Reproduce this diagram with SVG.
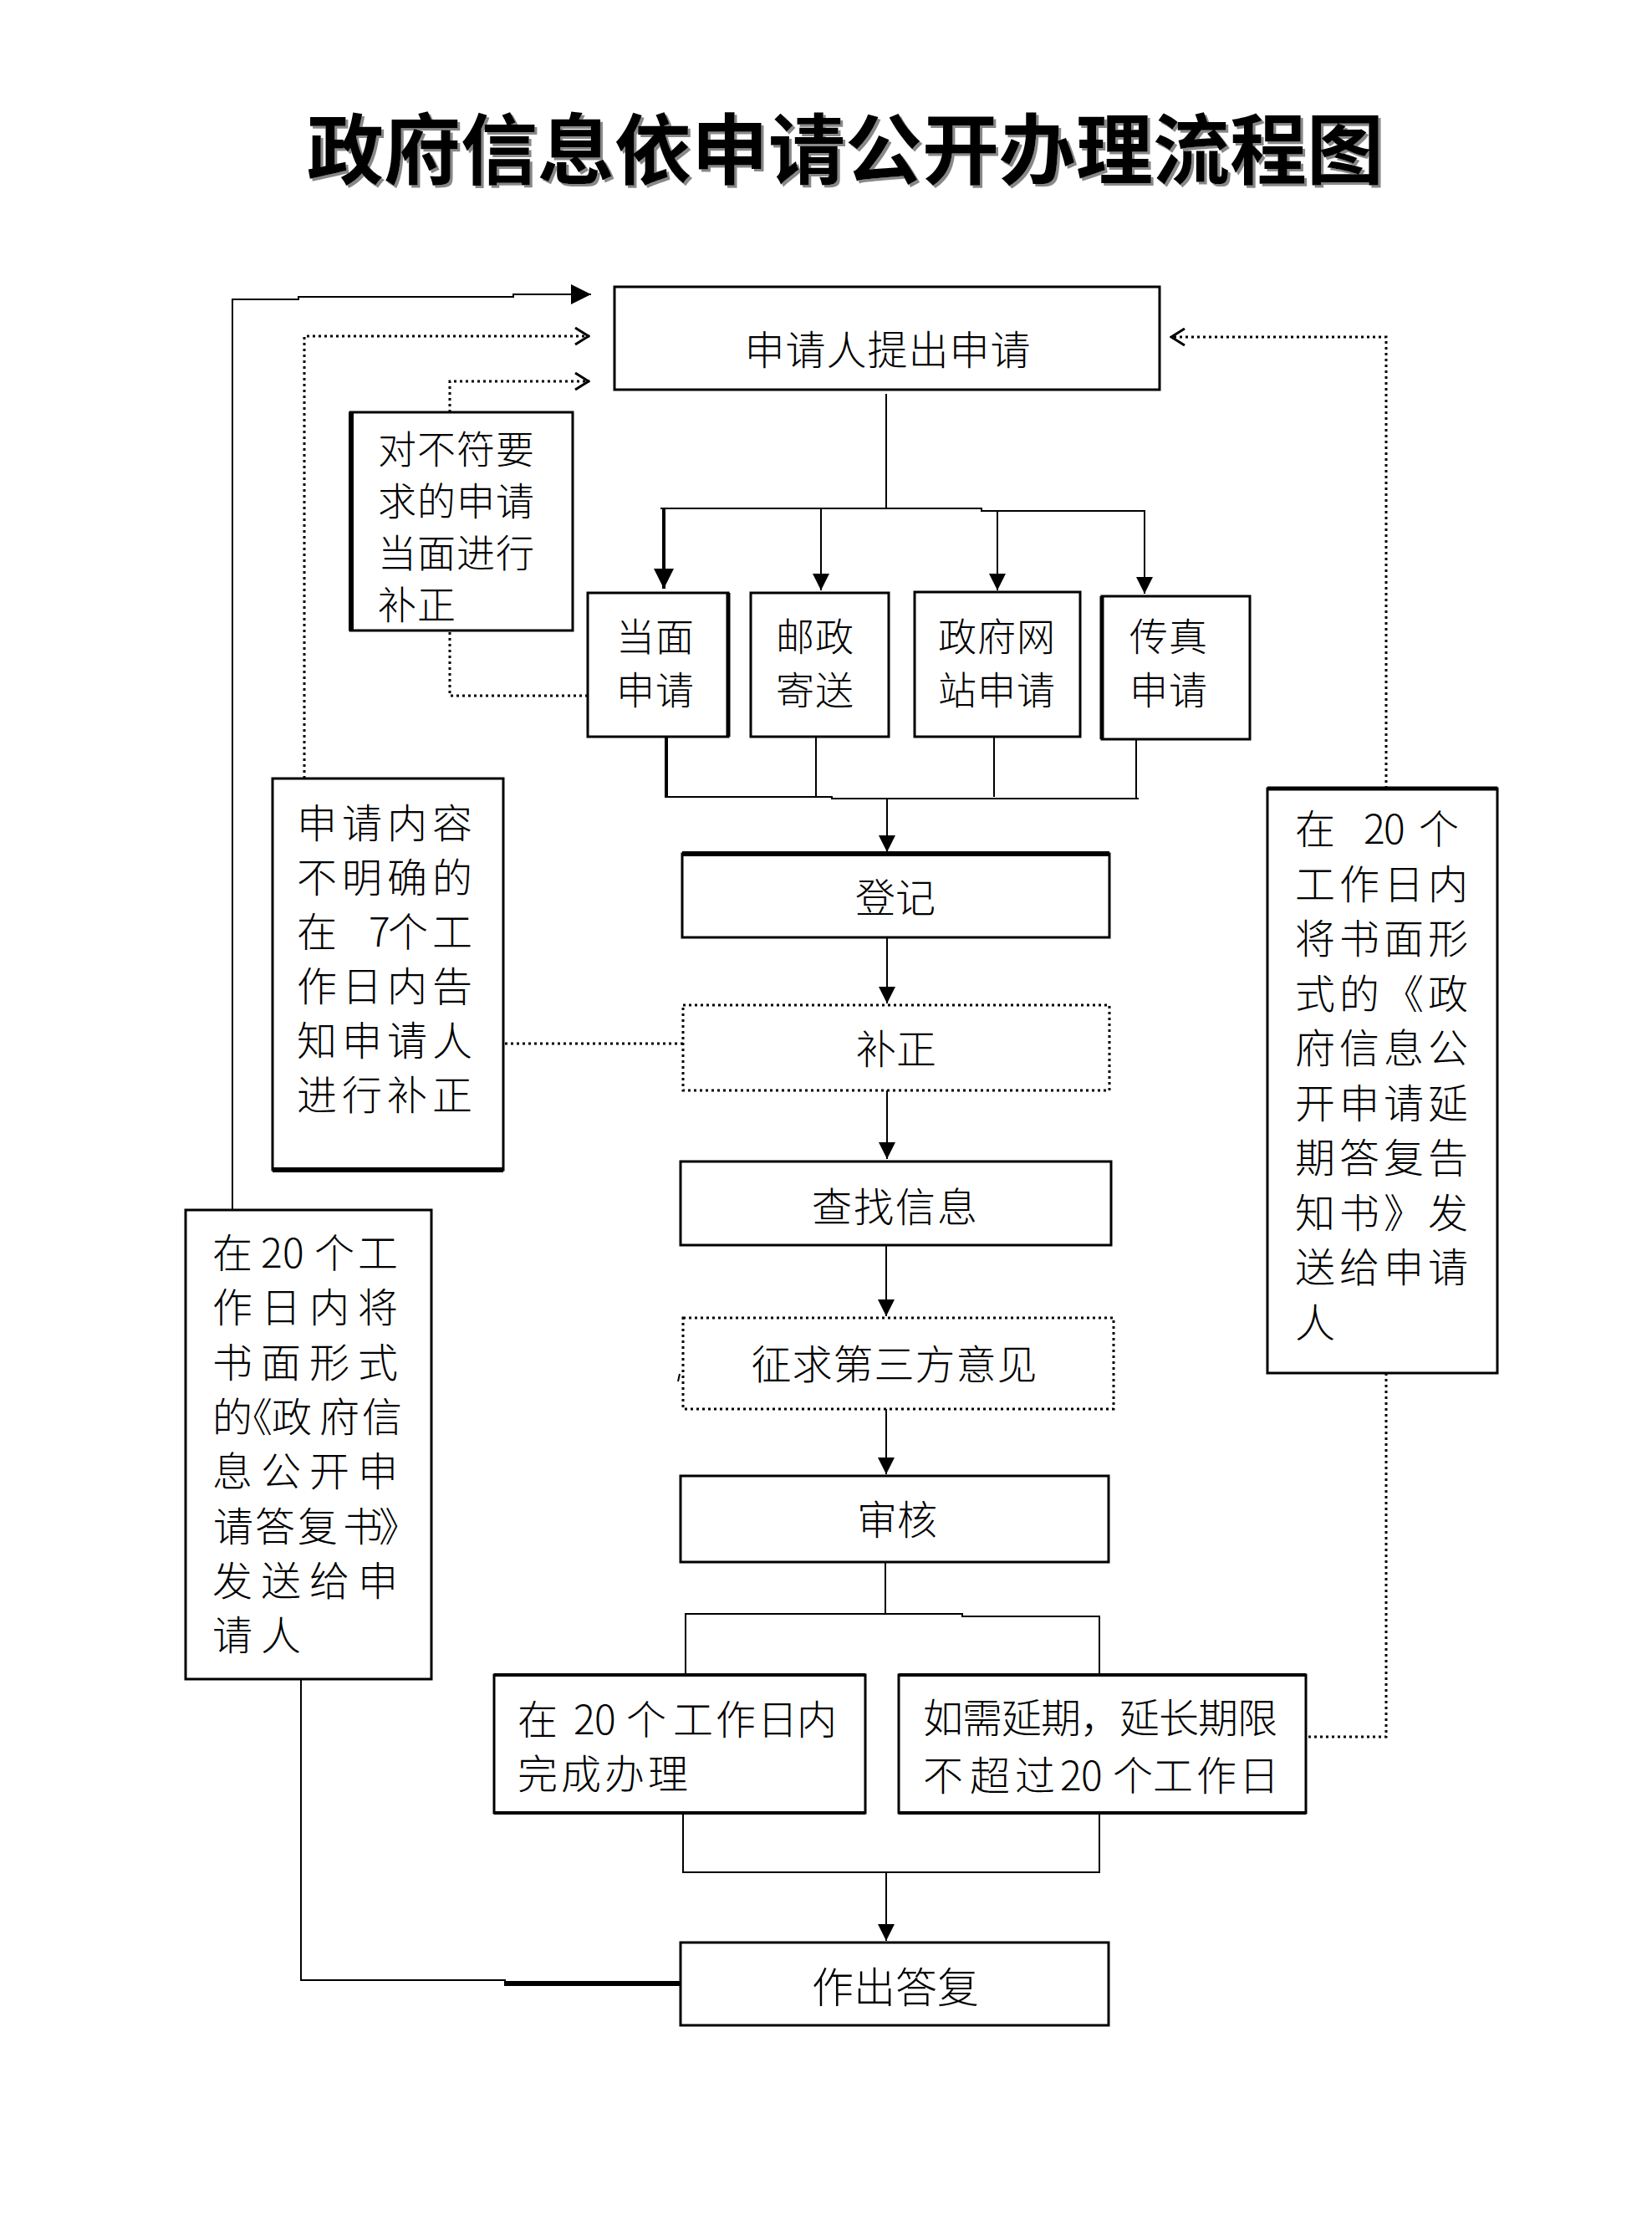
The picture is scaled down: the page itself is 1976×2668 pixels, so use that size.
<svg xmlns="http://www.w3.org/2000/svg" width="1976" height="2668" viewBox="0 0 1976 2668">
<defs>
<style>
.box{fill:#fff;stroke:#000;stroke-width:3}
.dbox{fill:#fff;stroke:#000;stroke-width:3;stroke-dasharray:3 4}
.t{font-family:'Noto Sans CJK SC','Liberation Sans',sans-serif;font-size:48px;font-weight:300;fill:#000}
.s{font-size:46px}
.c{text-anchor:middle}
.ln{fill:none;stroke:#000;stroke-width:2}
.thk{fill:none;stroke:#000;stroke-width:5}
.dl{fill:none;stroke:#000;stroke-width:3;stroke-dasharray:3 4}
</style>
<marker id="arr" viewBox="0 0 20 20" refX="20" refY="10" markerWidth="20" markerHeight="20" markerUnits="userSpaceOnUse" orient="auto"><path d="M0,0 L20,10 L0,20 z" fill="#000"/></marker>
<marker id="arrL" viewBox="0 0 20 20" refX="20" refY="10" markerWidth="24" markerHeight="24" markerUnits="userSpaceOnUse" orient="auto"><path d="M0,0 L20,10 L0,20 z" fill="#000"/></marker>
<marker id="open" viewBox="0 0 20 22" refX="19" refY="11" markerWidth="20" markerHeight="22" markerUnits="userSpaceOnUse" orient="auto"><path d="M2,1 L18,11 L2,21" fill="none" stroke="#000" stroke-width="3"/></marker>
<filter id="sh" x="-5%" y="-20%" width="110%" height="140%"><feDropShadow dx="3" dy="3" stdDeviation="0.6" flood-color="#888"/></filter>
</defs>
<rect x="0" y="0" width="1976" height="2668" fill="#fff"/>
<text class="t c" x="1011" y="213" filter="url(#sh)" style="font-size:92px;font-weight:700">政府信息依申请公开办理流程图</text>

<g id="connectors">
<path class="ln" d="M360,2008 V2368 H605"/>
<path class="ln" d="M603,2372 H814" style="stroke-width:6"/>
<path class="ln" d="M278,1447 V358 H357 V355 H614 V352 H707" marker-end="url(#arrL)"/>
<path class="ln" d="M1060,471 V608"/>
<path class="ln" d="M790,608 H1174 V611 H1370"/>
<path class="ln" d="M794,608 V704" style="stroke-width:4" marker-end="url(#arrL)"/>
<path class="ln" d="M982,608 V706" marker-end="url(#arr)"/>
<path class="ln" d="M1193,611 V706" marker-end="url(#arr)"/>
<path class="ln" d="M1369,611 V710" marker-end="url(#arr)"/>
<path class="ln" d="M797,881 V953" style="stroke-width:4"/>
<path class="ln" d="M976,881 V953"/>
<path class="ln" d="M1189,881 V953"/>
<path class="ln" d="M1359,884 V955"/>
<path class="ln" d="M795,953 H995 V955 H1362"/>
<path class="ln" d="M1061,955 V1019" marker-end="url(#arr)"/>
<path class="ln" d="M1061,1121 V1200" marker-end="url(#arr)"/>
<path class="ln" d="M1061,1304 V1386" marker-end="url(#arr)"/>
<path class="ln" d="M1060,1489 V1574" marker-end="url(#arr)"/>
<path class="ln" d="M1060,1685 V1763" marker-end="url(#arr)"/>
<path class="ln" d="M1059,1868 V1930"/>
<path class="ln" d="M820,2003 V1930 H1151 V1933 H1315 V2003"/>
<path class="ln" d="M817,2168 V2239 H1315 V2168"/>
<path class="ln" d="M1060,2239 V2321" marker-end="url(#arr)"/>
<path class="dl" d="M364,931 V402 H705" marker-end="url(#open)"/>
<path class="dl" d="M538,493 V456 H705" marker-end="url(#open)"/>
<path class="dl" d="M703,832 H538 V756"/>
<path class="dl" d="M817,1248 H602"/>
<path class="dl" d="M1658,943 V403 H1400" marker-end="url(#open)"/>
<path class="dl" d="M1658,1642 V2077 H1562"/>
<path class="ln" d="M813,1643 L811,1652"/>
</g>

<g id="n_apply">
<rect class="box" x="735" y="343" width="652" height="123"/>
<text class="t c" x="1062" y="436" letter-spacing="1">申请人提出申请</text>
</g>

<g id="n_fix_face">
<rect class="box" x="419" y="493" width="266" height="261"/>
<path class="thk" d="M420,493 V754" style="stroke-width:6"/>
<text class="t s" letter-spacing="1"><tspan x="452" y="554">对不符要</tspan><tspan x="452" y="616">求的申请</tspan><tspan x="452" y="678">当面进行</tspan><tspan x="452" y="740">补正</tspan></text>
</g>

<g id="n_face">
<rect class="box" x="703" y="709" width="168" height="172"/>
<path class="thk" d="M871,709 V881"/>
<text class="t s" letter-spacing="1"><tspan x="737" y="778">当面</tspan><tspan x="737" y="842">申请</tspan></text>
</g>

<g id="n_post">
<rect class="box" x="898" y="709" width="165" height="172"/>
<text class="t s" letter-spacing="1"><tspan x="928" y="778">邮政</tspan><tspan x="928" y="842">寄送</tspan></text>
</g>

<g id="n_web">
<rect class="box" x="1094" y="708" width="198" height="173"/>
<text class="t s" letter-spacing="1"><tspan x="1122" y="778">政府网</tspan><tspan x="1122" y="842">站申请</tspan></text>
</g>

<g id="n_fax">
<rect class="box" x="1318" y="713" width="177" height="171"/>
<path class="thk" d="M1318,713 V884"/>
<text class="t s" letter-spacing="1"><tspan x="1351" y="778">传真</tspan><tspan x="1351" y="842">申请</tspan></text>
</g>

<g id="n_register">
<rect class="box" x="816" y="1021" width="511" height="100"/>
<path class="thk" d="M816,1021 H1327" style="stroke-width:6"/>
<text class="t c" x="1071" y="1091">登记</text>
</g>

<g id="n_fix">
<rect class="dbox" x="817" y="1202" width="510" height="102"/>
<text class="t c" x="1072" y="1272">补正</text>
</g>

<g id="n_notice7">
<rect class="box" x="326" y="931" width="276" height="468"/>
<path class="thk" d="M326,1399 H602" style="stroke-width:6"/>
<text class="t" letter-spacing="6"><tspan x="355" y="1002">申请内容</tspan><tspan x="355" y="1067">不明确的</tspan><tspan x="355 405 441 462 464 517" y="1132">在 7 个工</tspan><tspan x="355" y="1197">作日内告</tspan><tspan x="355" y="1262">知申请人</tspan><tspan x="355" y="1327">进行补正</tspan></text>
</g>

<g id="n_extend_notice">
<rect class="box" x="1516" y="943" width="275" height="699"/>
<path class="thk" d="M1516,943 H1791"/>
<text class="t" letter-spacing="5"><tspan x="1549 1598 1631 1655 1680 1697" y="1009">在 20 个</tspan><tspan x="1549" y="1075">工作日内</tspan><tspan x="1549" y="1140">将书面形</tspan><tspan x="1549" y="1206">式的《政</tspan><tspan x="1549" y="1271">府信息公</tspan><tspan x="1549" y="1337">开申请延</tspan><tspan x="1549" y="1402">期答复告</tspan><tspan x="1549" y="1468">知书》发</tspan><tspan x="1549" y="1533">送给申请</tspan><tspan x="1549" y="1599">人</tspan></text>
</g>

<g id="n_search">
<rect class="box" x="814" y="1389" width="515" height="100"/>
<text class="t c" x="1071" y="1461" letter-spacing="2">查找信息</text>
</g>

<g id="n_third">
<rect class="dbox" x="817" y="1576" width="515" height="109"/>
<text class="t c" x="1070" y="1649" letter-spacing="1">征求第三方意见</text>
</g>

<g id="n_review">
<rect class="box" x="814" y="1765" width="512" height="103"/>
<text class="t c" x="1073" y="1835">审核</text>
</g>

<g id="n_reply_notice">
<rect class="box" x="222" y="1447" width="294" height="561"/>
<text class="t" letter-spacing="10"><tspan x="254 302 312 338 364 376 428" y="1516">在 20 个工</tspan><tspan x="254" y="1581">作日内将</tspan><tspan x="254" y="1647">书面形式</tspan><tspan x="254 278 325 382 433" y="1712">的《政府信</tspan><tspan x="254" y="1777">息公开申</tspan><tspan x="255 305 356 410 453" y="1843">请答复书》</tspan><tspan x="254" y="1908">发送给申</tspan><tspan x="254" y="1973">请人</tspan></text>
</g>

<g id="n_done20">
<rect class="box" x="591" y="2003" width="444" height="165"/>
<path class="thk" d="M591,2003 H1035 M591,2168 H1035" style="stroke-width:4"/>
<text class="t"><tspan x="619 667 686 711 737 749 805 856 906 953" y="2074">在 20 个工作日内</tspan><tspan x="619" y="2139" letter-spacing="4">完成办理</tspan></text>
</g>

<g id="n_extend">
<rect class="box" x="1075" y="2003" width="487" height="165"/>
<path class="thk" d="M1075,2003 H1562 M1075,2168 H1562" style="stroke-width:4"/>
<text class="t"><tspan x="1104" y="2072" letter-spacing="-1">如需延期，延长期限</tspan><tspan x="1104 1160 1214 1258 1268 1293 1318 1331 1379 1431 1482" y="2141">不超过 20 个工作日</tspan></text>
</g>

<g id="n_reply">
<rect class="box" x="814" y="2323" width="512" height="99"/>
<text class="t c" x="1071" y="2395" style="font-size:50px">作出答复</text>
</g>
</svg>
